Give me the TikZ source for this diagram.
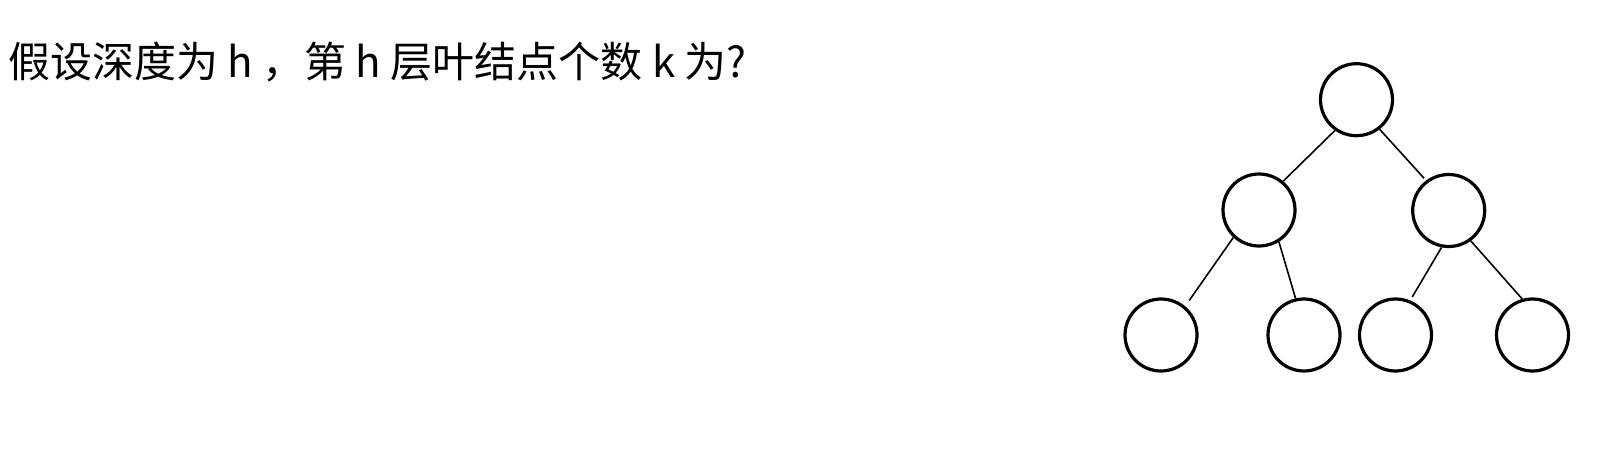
\documentclass[tikz,border=0pt]{standalone}
\usepackage{fontspec}
\newfontfamily\cjk{Noto Sans CJK SC}
\begin{document}
\begin{tikzpicture}[x=1pt,y=-1pt,
  treenode/.style={circle,draw=black,line width=3.2pt,minimum size=72pt,inner sep=0pt},
  edge/.style={draw=black,line width=1.6pt}]
\useasboundingbox[fill=white] (0,0) rectangle (1615,458);
\node[anchor=west,inner sep=0pt,font=\cjk\fontsize{42}{50}\selectfont] (q) at (8,62) {假设深度为 h ，第 h 层叶结点个数 k 为?};
\node[treenode] (r) at (1356.5,99.7) {};
\node[treenode] (a) at (1259,210) {};
\node[treenode] (b) at (1448.7,210.5) {};
\node[treenode] (l1) at (1161,335) {};
\node[treenode] (l2) at (1304,335) {};
\node[treenode] (l3) at (1395.5,335) {};
\node[treenode] (l4) at (1532.5,335) {};
\draw[edge] (r.235) -- (a.50);
\draw[edge,shorten >=3pt] (r.308) -- (b.127);
\draw[edge,shorten >=7pt] (a.227) -- (l1.50);
\draw[edge] (a.302) -- (l2.103);
\draw[edge,shorten >=4pt] (b.259) -- (l3.67);
\draw[edge] (b.306) -- (l4.106);
\end{tikzpicture}
\end{document}
